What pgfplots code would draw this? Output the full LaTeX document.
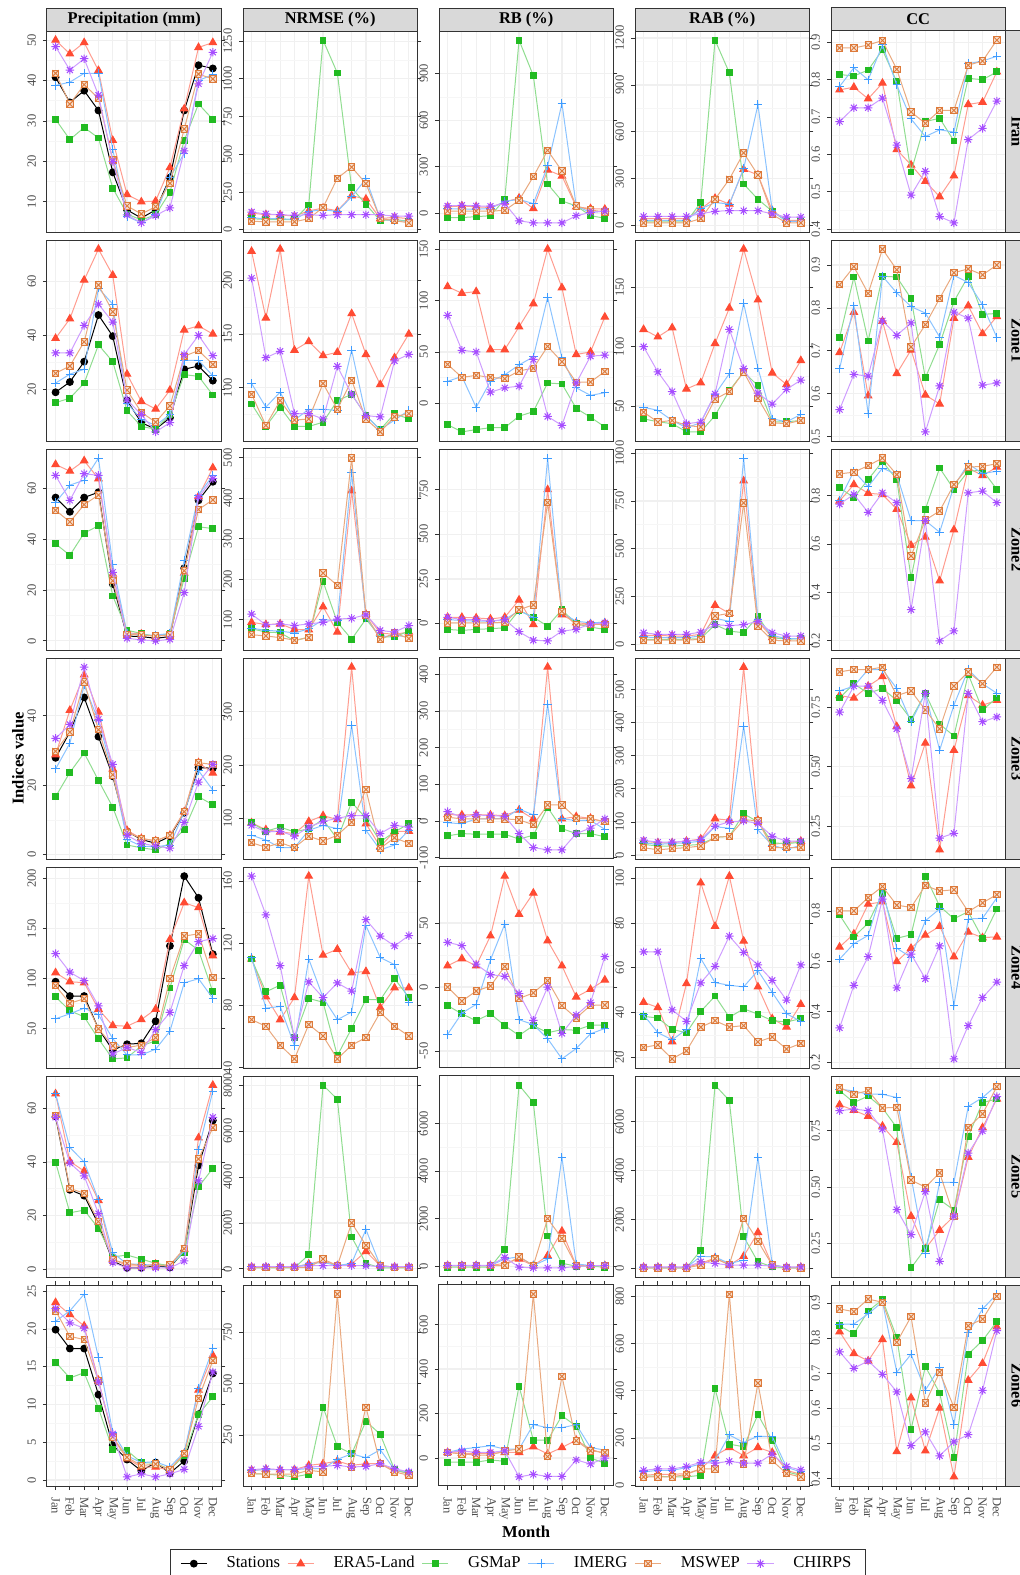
\documentclass[border=0pt]{standalone}
\usepackage{fontspec}
\setmainfont{Liberation Serif}
\usepackage{pgfplots}
\pgfplotsset{compat=1.18}
\usepackage{pgfplotstable}
\usepgfplotslibrary{groupplots}
\usetikzlibrary{calc}

\definecolor{erc}{HTML}{FF4B33}
\definecolor{gsc}{HTML}{22BB22}
\definecolor{imc}{HTML}{3D9BFF}
\definecolor{msc}{HTML}{DD7A3A}
\definecolor{chc}{HTML}{A64DFF}
\definecolor{tickc}{HTML}{4D4D4D}
\definecolor{framec}{HTML}{333333}
\definecolor{stripc}{HTML}{D9D9D9}

\pgfdeclareplotmark{boxx}{%
  \pgfpathrectangle{\pgfqpoint{-\pgfplotmarksize}{-\pgfplotmarksize}}{\pgfqpoint{2\pgfplotmarksize}{2\pgfplotmarksize}}%
  \pgfusepathqfillstroke
  \pgfpathmoveto{\pgfqpoint{-\pgfplotmarksize}{-\pgfplotmarksize}}%
  \pgfpathlineto{\pgfqpoint{\pgfplotmarksize}{\pgfplotmarksize}}%
  \pgfpathmoveto{\pgfqpoint{-\pgfplotmarksize}{\pgfplotmarksize}}%
  \pgfpathlineto{\pgfqpoint{\pgfplotmarksize}{-\pgfplotmarksize}}%
  \pgfusepathqstroke}
\pgfdeclareplotmark{star8}{%
  \pgfpathmoveto{\pgfqpoint{-\pgfplotmarksize}{0pt}}\pgfpathlineto{\pgfqpoint{\pgfplotmarksize}{0pt}}%
  \pgfpathmoveto{\pgfqpoint{0pt}{-\pgfplotmarksize}}\pgfpathlineto{\pgfqpoint{0pt}{\pgfplotmarksize}}%
  \pgfpathmoveto{\pgfqpoint{-0.7071\pgfplotmarksize}{-0.7071\pgfplotmarksize}}\pgfpathlineto{\pgfqpoint{0.7071\pgfplotmarksize}{0.7071\pgfplotmarksize}}%
  \pgfpathmoveto{\pgfqpoint{-0.7071\pgfplotmarksize}{0.7071\pgfplotmarksize}}\pgfpathlineto{\pgfqpoint{0.7071\pgfplotmarksize}{-0.7071\pgfplotmarksize}}%
  \pgfusepathqstroke}

\pgfplotsset{
  st/.style={draw=black, line width=0.5pt, mark=*, mark size=1.7pt, mark options={solid, draw=black, fill=black}},
  er/.style={draw=erc!55, line width=0.5pt, mark=triangle*, mark size=2.1pt, mark options={solid, draw=erc, fill=erc}},
  gs/.style={draw=gsc!50, line width=0.5pt, mark=square*, mark size=1.45pt, mark options={solid, draw=gsc, fill=gsc}},
  im/.style={draw=imc!60, line width=0.5pt, mark=+, mark size=2.1pt, mark options={solid, draw=imc, line width=0.5pt}},
  ms/.style={draw=msc!65, line width=0.5pt, mark=boxx, mark size=1.6pt, mark options={solid, draw=msc, fill=msc!25, line width=0.45pt}},
  ch/.style={draw=chc!55, line width=0.5pt, mark=star8, mark size=2.1pt, mark options={solid, draw=chc, line width=0.5pt}},
  ccA/.style={yticklabel style={/pgf/number format/fixed, /pgf/number format/fixed zerofill, /pgf/number format/precision=1}},
  ccB/.style={yticklabel style={/pgf/number format/fixed, /pgf/number format/fixed zerofill, /pgf/number format/precision=2}},
}

\newcommand\five[1]{%
  \addplot[er] table[x=m,y=E]{#1};
  \addplot[gs] table[x=m,y=G]{#1};
  \addplot[im] table[x=m,y=I]{#1};
  \addplot[ms] table[x=m,y=M]{#1};
  \addplot[ch] table[x=m,y=C]{#1};}
\newcommand\six[1]{%
  \addplot[st] table[x=m,y=S]{#1};
  \five{#1}}

% ================= Iran =================
\pgfplotstableread{
m S E G I M C
1 40.8 50.0 30.4 38.8 41.8 48.4
2 34.6 46.6 25.4 39.6 34.2 42.6
3 37.5 49.4 28.4 41.8 39.0 45.4
4 32.6 42.5 25.8 41.8 35.6 36.4
5 17.3 25.2 13.4 23.0 20.4 20.0
6 8.0 11.8 7.0 6.4 9.0 6.8
7 6.0 10.0 5.5 4.8 7.0 4.8
8 8.0 10.2 6.8 6.8 8.8 6.6
9 16.0 18.5 12.4 16.0 14.6 8.5
10 32.6 33.0 25.2 22.0 28.0 22.6
11 43.8 48.2 34.2 40.0 41.6 39.2
12 43.0 49.4 30.4 41.5 40.4 47.0
}\tPa
\pgfplotstableread{
m E G I M C
1 110 73 78 56 117
2 99 67 73 52 104
3 99 67 73 52 99
4 89 67 67 52 95
5 125 164 121 73 99
6 143 1257 132 147 95
7 125 1039 121 341 99
8 225 277 218 415 99
9 203 168 337 305 99
10 73 60 73 73 99
11 82 67 56 60 89
12 73 56 56 45 89
}\tNa
\pgfplotstableread{
m E G I M C
1 42 -27 31 15 48
2 48 -27 27 15 52
3 42 -21 27 15 48
4 38 -15 31 15 46
5 73 90 78 19 63
6 99 1115 90 84 -48
7 31 886 63 237 -61
8 279 189 305 405 -61
9 241 80 708 273 -61
10 42 48 48 48 -15
11 31 -15 6 21 6
12 27 -31 15 10 15
}\tBa
\pgfplotstableread{
m E G I M C
1 46 25 35 19 60
2 46 25 35 19 60
3 46 25 35 19 60
4 46 25 35 19 60
5 108 149 108 46 77
6 176 1186 149 170 93
7 139 977 139 298 97
8 362 267 366 466 97
9 325 170 774 325 97
10 97 93 97 72 77
11 35 29 29 19 56
12 35 29 29 19 56
}\tAa
\pgfplotstableread{
m E G I M C
1 0.773 0.814 0.782 0.885 0.688
2 0.780 0.810 0.832 0.885 0.725
3 0.749 0.826 0.800 0.893 0.725
4 0.791 0.880 0.893 0.905 0.751
5 0.613 0.795 0.786 0.828 0.625
6 0.572 0.553 0.695 0.714 0.491
7 0.528 0.688 0.648 0.683 0.555
8 0.487 0.697 0.666 0.718 0.434
9 0.543 0.636 0.660 0.718 0.417
10 0.734 0.804 0.843 0.839 0.640
11 0.740 0.800 0.850 0.850 0.670
12 0.821 0.821 0.863 0.906 0.743
}\tCa
% ================= Zone1 =================
\pgfplotstableread{
m S E G I M C
1 19.0 38.9 15.2 22.4 26.0 33.5
2 22.8 46.1 16.8 25.7 28.7 33.5
3 30.3 60.4 22.4 27.5 37.6 43.7
4 47.5 71.8 36.5 57.4 58.6 51.5
5 39.7 62.2 30.3 51.5 48.7 44.9
6 16.0 25.7 12.2 15.0 19.8 16.2
7 7.8 15.6 6.4 9.0 11.6 10.8
8 5.4 12.8 5.4 6.8 8.0 4.4
9 9.6 19.8 10.8 10.8 14.0 7.8
10 27.5 42.0 25.5 30.8 32.3 32.9
11 28.7 43.5 24.9 30.8 34.4 40.0
12 23.3 40.5 18.0 25.1 29.3 32.5
}\tPb
\pgfplotstableread{
m E G I M C
1 227 85 104 94 202
2 165 64 82 65 128
3 229 82 96 88 134
4 135 64 70 70 76
5 143 64 80 71 76
6 130 68 80 104 71
7 133 88 79 80 120
8 169 94 135 107 94
9 131 74 74 71 74
10 103 61 61 59 73
11 128 76 70 73 125
12 150 71 79 76 131
}\tNb
\pgfplotstableread{
m E G I M C
1 113.7 -21 21.3 37.9 85.7
2 107.3 -28 26.1 25.2 51.6
3 108.9 -25.8 -4.1 27.1 50
4 52.2 -23.9 21.3 25.2 10.8
5 52.2 -23.9 27.7 23.9 15
6 74.5 -12.7 37.3 31.5 16.6
7 97.1 -8.3 45.2 34.1 42.7
8 150.3 19.7 103.2 55.4 -13
9 112.7 18.8 44.3 40.4 -21.7
10 47.5 -5.1 15 20.4 19.7
11 50 -13.7 7.6 20.7 45.9
12 84.1 -23.2 10.2 30.9 46.8
}\tBb
\pgfplotstableread{
m E G I M C
1 114.6 39.2 48.9 44.8 100
2 108.3 36.7 46.4 36.5 78.7
3 116 35.1 37.8 37.8 62.2
4 64.4 28.2 31.8 33.7 35.1
5 69.6 28.2 35.9 32.3 36.5
6 102.8 42 59.9 55.8 60.2
7 132.6 63 77.3 62.2 114.6
8 182.3 78.7 136.7 78.7 81.5
9 139.5 67.1 82 56.6 60.8
10 77.9 36.7 39.2 35.9 51.7
11 68.2 36.7 36.7 35.1 64.1
12 88.4 37.8 42.8 37.8 71.8
}\tAb
\pgfplotstableread{
m E G I M C
1 0.696 0.731 0.658 0.854 0.563
2 0.790 0.872 0.805 0.896 0.645
3 0.595 0.723 0.553 0.834 0.641
4 0.769 0.874 0.874 0.937 0.770
5 0.647 0.872 0.835 0.889 0.736
6 0.702 0.822 0.803 0.709 0.765
7 0.597 0.637 0.788 0.761 0.511
8 0.576 0.715 0.732 0.822 0.618
9 0.776 0.815 0.876 0.882 0.790
10 0.805 0.874 0.859 0.891 0.776
11 0.740 0.785 0.807 0.877 0.620
12 0.780 0.787 0.731 0.900 0.625
}\tCb
% ================= Zone2 =================
\pgfplotstableread{
m S E G I M C
1 56.4 69.4 38.2 54.5 51.4 65.1
2 50.8 66.8 33.7 61.3 46.8 55.3
3 56.4 70.9 42.4 63.2 53.6 65.8
4 58.5 63.8 45.3 71.9 57.4 65.1
5 22.4 26.3 17.7 30.1 23.7 27.0
6 1.9 3.2 4.2 2.9 2.6 1.0
7 1.7 2.7 2.9 2.3 2.3 0.4
8 1.0 1.7 1.7 2.3 1.9 0.0
9 1.7 2.7 2.9 2.9 2.3 0.6
10 28.6 26.7 24.7 31.8 27.6 19.0
11 55.3 56.8 44.9 57.4 51.7 56.5
12 62.6 68.1 44.2 65.1 55.5 63.8
}\tPc
\pgfplotstableread{
m E G I M C
1 93.5 77.4 79 62.9 113.7
2 88 69.4 73.4 59.7 87.1
3 89.5 67.7 71.8 55.6 89.5
4 75.8 47.6 67 49.2 85.5
5 75 57.3 77.4 55.6 89.5
6 132 194.4 100 215 93.5
7 69.4 93.5 97.6 184.7 101.6
8 418.5 51.6 462.9 499.2 103.2
9 113.7 101.6 105.6 111.3 112.1
10 67 57.3 57.3 50.8 73.4
11 63.7 57.3 61.3 67 69.4
12 69.4 71.8 57.3 53.2 85.5
}\tNc
\pgfplotstableread{
m E G I M C
1 36.5 -31 23.7 5.5 36.5
2 36.5 -36.5 18.3 5.5 23.7
3 32.9 -31 14.6 5.5 23.7
4 27.4 -27.4 14.6 5.5 14.6
5 36.5 -21.9 23.7 9.1 23.7
6 133.2 74.8 73 78.5 -43.8
7 -3.7 36.5 36.5 105.9 -91.3
8 748 -12.8 923.5 675.3 -94.9
9 51.1 78.5 60.2 69.4 -40.2
10 5.5 0 14.6 -7.3 -31
11 0 -18.3 5.5 -3.7 0
12 5.5 -31 9.1 -3.7 5.5
}\tBc
\pgfplotstableread{
m E G I M C
1 45.9 25.5 37.4 20.4 59.5
2 45.9 25.5 34 20.4 51
3 42.5 25.5 34 20.4 51
4 42.5 25.5 34 20.4 51
5 51 28.9 42.5 25.5 62.9
6 204 102 136 148 102
7 161.5 68 119 161.5 96.9
8 855 60 974 739.5 102
9 119 144.5 127.5 93.5 119
10 34 34 45.9 20.4 59.5
11 28.9 25.5 28.9 17 42.5
12 28.9 28.9 28.9 17 42.5
}\tAc
\pgfplotstableread{
m E G I M C
1 0.778 0.833 0.782 0.890 0.765
2 0.846 0.792 0.901 0.897 0.805
3 0.810 0.867 0.837 0.924 0.731
4 0.805 0.941 0.914 0.955 0.812
5 0.744 0.867 0.887 0.887 0.771
6 0.595 0.461 0.697 0.551 0.329
7 0.629 0.744 0.697 0.699 0.697
8 0.448 0.914 0.649 0.737 0.200
9 0.659 0.826 0.839 0.846 0.241
10 0.914 0.901 0.932 0.918 0.812
11 0.883 0.905 0.891 0.921 0.819
12 0.918 0.826 0.901 0.932 0.771
}\tCc
% ================= Zone3 =================
\pgfplotstableread{
m S E G I M C
1 27.9 28.8 16.7 24.7 29.8 33.5
2 35.3 41.6 23.7 32.1 35.3 37.5
3 45.3 51.8 29.3 48.8 49.8 54.0
4 34.0 41.1 21.4 38.6 36.0 39.0
5 22.6 24.7 13.7 23.7 23.0 26.0
6 6.7 7.0 2.8 4.4 6.5 5.6
7 4.4 4.7 2.0 2.5 4.7 3.3
8 3.3 4.0 1.4 2.3 4.0 2.5
9 5.3 5.6 3.3 2.8 5.6 1.9
10 12.1 12.4 7.2 12.3 12.4 9.3
11 25.1 26.5 16.7 24.2 26.5 20.9
12 24.9 23.5 14.4 18.6 26.0 26.0
}\tPd
\pgfplotstableread{
m E G I M C
1 91.4 91.4 68.1 54 86.5
2 78.5 75.5 58.9 45.4 74.2
3 74.2 83.4 44.8 54 75.5
4 71.2 74.2 44.8 44.8 66.3
5 93.9 80.4 77.3 66.3 83.4
6 104.9 97.5 86.5 57 93.9
7 97.5 60.7 80.4 68.1 100
8 384 130 275 92.6 104.9
9 89.6 100 77.3 154 104.9
10 46.6 55.8 40.5 43.6 71.2
11 75.5 74.2 49.7 63.2 86.5
12 75.5 89.6 77.3 52.8 83.4
}\tNd
\pgfplotstableread{
m E G I M C
1 17.8 -40 -4.4 10.7 25.8
2 16.9 -33.8 -7.1 6.2 10.7
3 17.8 -35.6 6.2 6.2 16.9
4 16.9 -35.6 6.2 6.2 15.1
5 15.1 -35.6 8 6.2 13.3
6 30.2 -48.9 32.9 3.6 -33.8
7 6.2 -38.2 16.9 -9.8 -72
8 419.6 37.3 319 44.4 -78.2
9 6.2 -20.4 6.2 44.4 -78.2
10 12.4 -33.8 1.8 8 -33.8
11 8 -33.8 1.8 6.2 -18.7
12 -2.7 -42.7 -22.2 -0.9 6.2
}\tBd
\pgfplotstableread{
m E G I M C
1 42 32.2 37 22.4 44.8
2 37 27.3 32.2 15.6 39
3 37 27.3 35 19.5 39
4 42 29.2 37 22.4 42
5 48.7 32.2 42 27.3 46.8
6 110 53.6 85.8 53.6 87.7
7 105.3 56.5 80.9 56.5 100.4
8 568 124.8 390 107.2 103.3
9 105.3 100.4 76 103.3 95.5
10 32.2 37 29.2 22.4 56.5
11 37 34.1 17.5 22.4 42
12 42 39 29.2 22.4 42
}\tAd
\pgfplotstableread{
m E G I M C
1 0.80 0.79 0.82 0.90 0.73
2 0.79 0.85 0.84 0.91 0.84
3 0.84 0.81 0.91 0.91 0.84
4 0.88 0.83 0.91 0.92 0.78
5 0.67 0.78 0.83 0.80 0.66
6 0.42 0.70 0.69 0.82 0.45
7 0.60 0.81 0.81 0.74 0.81
8 0.15 0.68 0.57 0.66 0.20
9 0.57 0.63 0.76 0.84 0.22
10 0.80 0.89 0.91 0.90 0.81
11 0.76 0.74 0.85 0.85 0.69
12 0.78 0.79 0.81 0.92 0.71
}\tCd
% ================= Zone4 =================
\pgfplotstableread{
m S E G I M C
1 97 106 82 60 93 125
2 82.7 97 68 65 75.5 106.5
3 82.7 96 62 70.6 80 98
4 50 69.6 40 64 50 72.9
5 28.8 53.3 20 40.2 33 24.8
6 34.6 52.6 21 23.9 31.4 31.4
7 35.6 59.2 33 23.9 33.7 26.5
8 57.5 69.6 38 29.7 41.2 49.3
9 132.7 139.2 90.8 47.7 100 66.3
10 202.3 175.8 139.2 95.8 142.5 113.1
11 180.7 170.9 128.4 100 144.8 137
12 124.5 122.9 86.9 80.4 101 140
}\tPe
\pgfplotstableread{
m E G I M C
1 109.9 109.9 110.9 70.9 163.2
2 85.7 88.8 78.3 66.7 138.3
3 70.9 93.1 79.4 54.5 105.7
4 85.1 59.4 54.1 45.7 59.4
5 163.2 84.6 109.9 67.8 95.2
6 112.4 82.1 85.1 60.4 85.1
7 116.2 47.8 70.9 45.7 94.5
8 101.1 65.3 75.8 54.5 89.3
9 101.9 84 131.4 59.4 135.2
10 78.7 83.6 110.9 75.6 124.6
11 91.4 97.3 106.3 66.7 118.3
12 91.4 85.3 82.1 60.4 125
}\tNe
\pgfplotstableread{
m E G I M C
1 16.6 -14.5 -37 0 34.9
2 22.2 -20.9 -20.4 -11 32.4
3 16.6 -26.3 -13.5 -3.1 17.9
4 40 -20.9 21.2 0.8 9.7
5 86.7 -30.1 49.2 16.1 8.4
6 56.9 -37.8 -25.5 -8.9 -5.1
7 73.5 -30.1 -29.3 -4.6 -26
8 36.2 -35.7 -40.3 5.1 0
9 16.6 -33.2 -56.1 -14.5 -36.2
10 -7.7 -33.7 -48 -24.2 -21.9
11 -1.8 -29.8 -36.5 -14.3 -12.2
12 5.6 -29.8 -32.4 -14 23.7
}\tBe
\pgfplotstableread{
m E G I M C
1 44.6 38.3 39 24.4 67.2
2 42.3 37.6 31 25.6 67.2
3 27 32.5 27.8 19.3 41.2
4 53 31 32.5 22.9 36.1
5 98 40.5 64.2 33.5 53.3
6 78.6 47.4 53.4 36.4 60.7
7 101 37.9 52.2 33.5 74.2
8 72 41.7 51.5 34.2 66.9
9 51.5 39.3 58.8 26.9 61.3
10 37.3 36.4 49 29.1 54.4
11 33.6 35.8 39.5 23.7 45.6
12 43.7 37.3 36.1 26.2 61.3
}\tAe
\pgfplotstableread{
m E G I M C
1 0.657 0.784 0.609 0.800 0.336
2 0.709 0.697 0.670 0.800 0.505
3 0.827 0.752 0.703 0.853 0.619
4 0.836 0.869 0.886 0.897 0.847
5 0.599 0.691 0.652 0.823 0.495
6 0.652 0.706 0.616 0.814 0.629
7 0.704 0.938 0.761 0.901 0.531
8 0.739 0.819 0.808 0.879 0.661
9 0.618 0.769 0.425 0.884 0.213
10 0.716 0.797 0.768 0.797 0.345
11 0.694 0.691 0.771 0.832 0.456
12 0.697 0.808 0.852 0.865 0.518
}\tCe
% ================= Zone5 =================
\pgfplotstableread{
m S E G I M C
1 57 65.5 39.9 65.5 57.3 56.7
2 29.6 40.2 21 45.4 30.1 39.6
3 27.4 36.6 22 40 28.3 34.8
4 16.7 25.6 15.2 25.9 17.7 20.7
5 3 3.7 4.5 6.1 3.3 2.4
6 0.4 1.2 5.2 1.8 2.1 0.4
7 0.4 1.2 3.7 1.8 1.2 0.4
8 1.2 1.8 2.1 1.2 1.2 0.4
9 0.6 1.2 1.2 1.2 1.5 0.4
10 6.7 7.3 6.1 6.7 7.6 3
11 38.7 49 30.7 44.5 41.1 32.9
12 55.5 68.7 37.6 66.5 52.8 56.7
}\tPf
\pgfplotstableread{
m E G I M C
1 80 50 85 70 100
2 75 50 80 70 105
3 80 45 80 65 100
4 85 50 75 70 100
5 215 615 215 60 143
6 358 8008 286 429 143
7 143 7393 143 143 143
8 215 1387 243 2002 143
9 758 243 1716 1030 143
10 143 50 143 143 100
11 80 50 80 70 100
12 80 50 80 70 100
}\tNf
\pgfplotstableread{
m E G I M C
1 28 -40 28 28 40
2 28 -40 28 28 40
3 28 -40 28 28 40
4 28 -40 28 28 40
5 124 718 304 28 373
6 304 7618 400 400 -41
7 28 6886 28 28 -69
8 442 1270 304 2001 -69
9 1477 124 4582 1173 -69
10 28 0 97 28 -14
11 28 0 28 28 28
12 28 -40 28 28 28
}\tBf
\pgfplotstableread{
m E G I M C
1 45 20 35 25 60
2 45 20 35 25 60
3 45 20 35 25 60
4 45 20 35 25 60
5 201 737 496 134 268
6 429 7504 469 402 201
7 134 6874 201 161 134
8 496 1300 335 2050 134
9 1474 268 4556 1112 134
10 134 67 161 134 94
11 45 20 35 25 60
12 45 20 35 25 60
}\tAf
\pgfplotstableread{
m E G I M C
1 0.865 0.928 0.935 0.942 0.839
2 0.841 0.875 0.926 0.912 0.846
3 0.814 0.904 0.912 0.928 0.839
4 0.771 0.851 0.912 0.851 0.757
5 0.699 0.764 0.897 0.854 0.401
6 0.372 0.143 0.546 0.532 0.290
7 0.228 0.228 0.206 0.500 0.481
8 0.310 0.445 0.522 0.564 0.172
9 0.372 0.399 0.522 0.372 0.372
10 0.633 0.725 0.858 0.764 0.651
11 0.764 0.875 0.897 0.825 0.749
12 0.891 0.891 0.952 0.945 0.901
}\tCf
% ================= Zone6 =================
\pgfplotstableread{
m S E G I M C
1 19.9 23.5 15.6 21 22.4 22.7
2 17.4 21.9 13.5 22.4 19 20.8
3 17.4 20.4 14.2 24.6 18.6 20.1
4 11.3 13.2 9.5 16.2 13.1 13
5 4.6 5.6 4 6.3 5.7 6.1
6 2.7 2.8 3.9 3.2 3 0.4
7 1.2 1.7 2.3 2.3 1.9 0.8
8 2.3 1.7 2.2 2.4 2.1 0.4
9 0.9 1.3 1.4 1.7 1.4 0.8
10 2.5 3.5 3.2 3.7 3.5 1.4
11 8.7 11.9 8.7 12.1 10.8 7.1
12 14.1 16.5 11 17.4 15.8 14.3
}\tPg
\pgfplotstableread{
m E G I M C
1 78 62 78 62 81
2 83 59 81 59 86
3 81 54 81 59 81
4 81 46 81 59 81
5 102 59 86 78 94
6 110 385 86 70 97
7 123 194 131 935 102
8 102 158 158 94 94
9 110 317 139 385 97
10 110 253 178 110 110
11 78 81 81 70 86
12 62 62 70 54 70
}\tNg
\pgfplotstableread{
m E G I M C
1 25 -19 25 25 25
2 21 -19 40 18 32
3 21 -19 47 13 25
4 21 -9 55 13 25
5 25 -15 40 32 32
6 25 323 40 40 -85
7 50 80 150 737 -74
8 18 80 136 6 -83
9 47 190 136 367 -83
10 80 143 150 77 -9
11 40 0 47 32 -27
12 18 -24 35 25 -1
}\tBg
\pgfplotstableread{
m E G I M C
1 42 38 56 35 63
2 46 38 63 35 69
3 46 35 63 35 69
4 49 35 74 46 79
5 69 42 90 69 97
6 125 410 104 69 93
7 160 174 213 810 101
8 125 163 181 90 93
9 160 299 208 433 93
10 139 190 206 104 132
11 63 56 76 49 79
12 46 42 56 35 65
}\tAg
\pgfplotstableread{
m E G I M C
1 0.818 0.835 0.840 0.883 0.761
2 0.756 0.812 0.840 0.875 0.714
3 0.735 0.877 0.869 0.911 0.735
4 0.796 0.909 0.903 0.902 0.697
5 0.477 0.802 0.703 0.788 0.647
6 0.630 0.540 0.754 0.861 0.494
7 0.479 0.719 0.652 0.615 0.533
8 0.601 0.644 0.716 0.703 0.465
9 0.405 0.460 0.554 0.603 0.505
10 0.680 0.754 0.815 0.835 0.525
11 0.728 0.793 0.883 0.854 0.651
12 0.832 0.847 0.925 0.919 0.821
}\tCg

\begin{document}
\begin{tikzpicture}
\begin{groupplot}[
  group style={group size=5 by 7, horizontal sep=10.8pt, vertical sep=4pt, xticklabels at=edge bottom},
  scale only axis, width=87.2pt, height=100.5pt,
  xmin=0.4, xmax=12.6, xtick={1,2,3,4,5,6,7,8,9,10,11,12},
  xticklabels={Jan,Feb,Mar,Apr,May,Jun,Jul,Aug,Sep,Oct,Nov,Dec},
  enlarge y limits=0.05,
  scaled y ticks=false,
  /pgf/number format/assume math mode=true,
  /pgf/number format/1000 sep={},
  axis line style={draw=framec, line width=0.5pt},
  tick align=outside, major tick length=2pt, minor tick length=0pt,
  tick style={draw=framec, line width=0.4pt},
  xtick style={draw=none},
  xmajorgrids, ymajorgrids, yminorgrids, minor y tick num=1,
  major grid style={draw=gray!12, line width=0.6pt},
  minor grid style={draw=gray!7, line width=0.35pt},
  tick label style={font=\fontsize{6.3}{7}\selectfont, text=tickc},
  yticklabel style={rotate=90, anchor=south},
  xticklabel style={rotate=-90, anchor=west},
  clip mode=individual,
]
% ---- Iran
\nextgroupplot[ytick={10,20,30,40,50}] \six{\tPa}
\nextgroupplot[ytick={0,250,500,750,1000,1250}] \five{\tNa}
\nextgroupplot[ytick={0,300,600,900}] \five{\tBa}
\nextgroupplot[ytick={0,300,600,900,1200}] \five{\tAa}
\nextgroupplot[ytick={0.4,0.5,0.6,0.7,0.8,0.9}, ccA] \five{\tCa}
% ---- Zone1
\nextgroupplot[ytick={20,40,60}] \six{\tPb}
\nextgroupplot[ytick={50,100,150,200}] \five{\tNb}
\nextgroupplot[ytick={0,50,100,150}] \five{\tBb}
\nextgroupplot[ytick={50,100,150}] \five{\tAb}
\nextgroupplot[ytick={0.5,0.6,0.7,0.8,0.9}, ccA] \five{\tCb}
% ---- Zone2
\nextgroupplot[ytick={0,20,40,60}] \six{\tPc}
\nextgroupplot[ytick={100,200,300,400,500}] \five{\tNc}
\nextgroupplot[ytick={0,250,500,750}] \five{\tBc}
\nextgroupplot[ytick={0,250,500,750,1000}] \five{\tAc}
\nextgroupplot[ytick={0.2,0.4,0.6,0.8}, ccA] \five{\tCc}
% ---- Zone3
\nextgroupplot[ytick={0,20,40}] \six{\tPd}
\nextgroupplot[ytick={100,200,300}] \five{\tNd}
\nextgroupplot[ytick={-100,0,100,200,300,400}] \five{\tBd}
\nextgroupplot[ytick={0,100,200,300,400,500}] \five{\tAd}
\nextgroupplot[ytick={0.25,0.5,0.75}, ccB] \five{\tCd}
% ---- Zone4
\nextgroupplot[ytick={50,100,150,200}] \six{\tPe}
\nextgroupplot[ytick={40,80,120,160}] \five{\tNe}
\nextgroupplot[ytick={-50,0,50}] \five{\tBe}
\nextgroupplot[ytick={20,40,60,80,100}] \five{\tAe}
\nextgroupplot[ytick={0.2,0.4,0.6,0.8}, ccA] \five{\tCe}
% ---- Zone5
\nextgroupplot[ytick={0,20,40,60}] \six{\tPf}
\nextgroupplot[ytick={0,2000,4000,6000,8000}] \five{\tNf}
\nextgroupplot[ytick={0,2000,4000,6000}] \five{\tBf}
\nextgroupplot[ytick={0,2000,4000,6000,8000}] \five{\tAf}
\nextgroupplot[ytick={0.25,0.5,0.75}, ccB] \five{\tCf}
% ---- Zone6
\nextgroupplot[ytick={0,5,10,15,20,25}, xtick style={draw=framec}] \six{\tPg}
\nextgroupplot[ytick={250,500,750}, xtick style={draw=framec}] \five{\tNg}
\nextgroupplot[ytick={0,200,400,600}, xtick style={draw=framec},
  legend columns=6,
  legend image code/.code={\draw[mark repeat=2,mark phase=2] plot coordinates {(0cm,0cm) (0.23cm,0cm) (0.46cm,0cm)};},
  legend style={at={(0.452,-0.313)}, anchor=north, draw=framec, line width=0.5pt,
    font=\fontsize{8.3}{10}\selectfont, inner xsep=5pt, inner ysep=1.5pt,
    /tikz/every even column/.append style={column sep=1.5pt},
    /tikz/every odd column/.append style={column sep=7.6pt}}]
  \addlegendimage{st}\addlegendentry{Stations}
  \addlegendimage{er}\addlegendentry{ERA5-Land}
  \addlegendimage{gs}\addlegendentry{GSMaP}
  \addlegendimage{im}\addlegendentry{IMERG}
  \addlegendimage{ms}\addlegendentry{MSWEP}
  \addlegendimage{ch}\addlegendentry{CHIRPS}
  \five{\tBg}
\nextgroupplot[ytick={0,200,400,600,800}, xtick style={draw=framec}] \five{\tAg}
\nextgroupplot[ytick={0.4,0.5,0.6,0.7,0.8,0.9}, ccA, xtick style={draw=framec}] \five{\tCg}
\end{groupplot}

% strips on top
\foreach \c/\t in {1/{Precipitation (mm)},2/{NRMSE (\%)},3/{RB (\%)},4/{RAB (\%)},5/{CC}}{
  \draw[fill=stripc, draw=framec, line width=0.5pt] (group c\c r1.north west) rectangle ([yshift=11.5pt]group c\c r1.north east);
  \node[font=\bfseries\fontsize{8.2}{9}\selectfont, anchor=center, inner sep=0pt]
    at ($(group c\c r1.north west)!0.5!(group c\c r1.north east)+(0,5.75pt)$) {\t};
}
% strips on the right (cut by the page edge, as in the source figure)
\foreach \r/\t in {1/Iran,2/Zone1,3/Zone2,4/Zone3,5/Zone4,6/Zone5,7/Zone6}{
  \draw[fill=stripc, draw=framec, line width=0.5pt] (group c5r\r.north east) rectangle ([xshift=11.5pt]group c5r\r.south east);
  \node[rotate=-90, font=\bfseries\fontsize{8.2}{9}\selectfont, anchor=center, inner sep=0pt]
    at ($(group c5r\r.north east)!0.5!(group c5r\r.south east)+(5.75pt,0)$) {\t};
}
% axis titles
\node[font=\bfseries\fontsize{8.3}{10}\selectfont, anchor=center] at ($(group c3r7.south)+(0,-23pt)$) {Month};
\node[font=\bfseries\fontsize{8.3}{10}\selectfont, anchor=center, rotate=90] at ($(group c1r4.west)+(-14.5pt,0)$) {Indices value};

\pgfresetboundingbox
\path[use as bounding box] ($(group c1r1.north west)+(-23.5pt,15.5pt)$) rectangle ++(509.5pt,-787.5pt);
\end{tikzpicture}
\end{document}
